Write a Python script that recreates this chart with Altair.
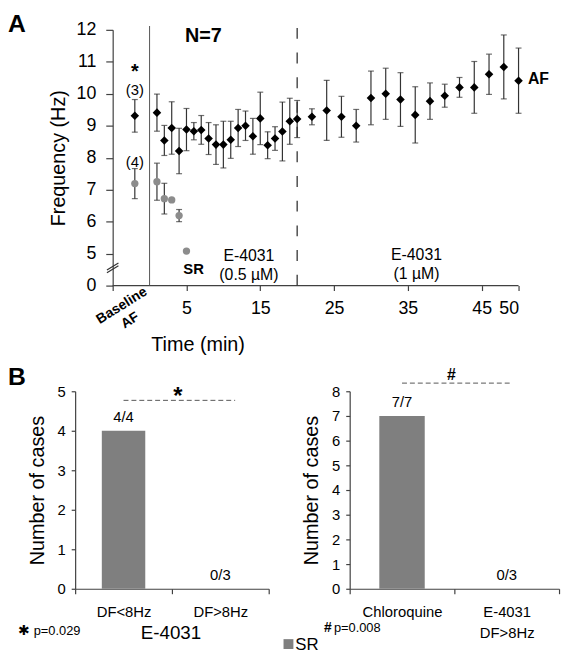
import altair as alt
import pandas as pd

FONT = "Liberation Sans"
AXIS_COLOR = "#404040"
BAR_GRAY = "#7f7f7f"
SR_GRAY = "#8c8c8c"
ERR_COLOR = "#333333"

# ---------------- Panel A data ----------------
af_time = [-2, 1, 2, 3, 4, 5, 6, 7, 8, 9, 10, 11, 12, 13, 14, 15, 16, 17, 18, 19, 20,
           22, 24, 26, 28, 30, 32, 34, 36, 38, 40, 42, 44, 46, 48, 50]
af_mean = [9.31, 9.41, 8.54, 8.93, 8.21, 8.88, 8.83, 8.87, 8.60, 8.41, 8.41, 8.56, 8.93, 9.00,
           8.67, 9.23, 8.39, 8.60, 8.82, 9.14, 9.21,
           9.28, 9.48, 9.28, 9.00, 9.87, 10.00, 9.82, 9.34, 9.77, 9.94, 10.20, 10.20, 10.61,
           10.84, 10.41]
af_err = [0.51, 0.58, 0.47, 0.82, 0.71, 0.66, 0.27, 0.45, 0.50, 0.62, 0.73, 0.58, 0.58, 0.46,
          0.56, 0.82, 0.42, 0.37, 0.92, 0.72, 0.58,
          0.25, 0.94, 0.64, 0.51, 0.84, 0.80, 0.84, 0.88, 0.57, 0.36, 0.31, 0.81, 0.63,
          1.00, 1.02]

sr_time = [-2, 1, 2, 3, 4, 5]
sr_mean = [7.19, 7.25, 6.72, 6.68, 6.19, 5.08]
sr_err = [0.47, 0.58, 0.48, 0.0, 0.19, 0.0]

x_tick_values = [-5, 5, 15, 25, 35, 45, 50]
y_tick_values = [4, 5, 6, 7, 8, 9, 10, 11, 12]

# annotation texts of panel A (time, frequency, text, font size)
a_bold_t = [7.3, 52.7, 5.97]
a_bold_v = [11.79, 10.46, 4.53]
a_bold_txt = ["N=7", "AF", "SR"]
a_bold_size = [20, 16, 15]

a_norm_t = [13.46, 13.46, 36.17, 36.17, -2, -2]
a_norm_v = [4.93, 4.34, 4.95, 4.37, 10.12, 7.86]
a_norm_txt = ["E-4031", "(0.5 µM)", "E-4031", "(1 µM)", "(3)", "(4)"]
a_norm_size = [16, 16, 16, 16, 15, 15]

# ---------------- Panel B data ----------------
b1_cats = ["DF<8Hz", "DF>8Hz"]
b1_vals = [4, 0]
b1_labels = ["4/4", "0/3"]

b2_cats = ["Chloroquine", "E-4031|DF>8Hz"]
b2_vals = [7, 0]
b2_labels = ["7/7", "0/3"]

# ---------------- layout constants ----------------
A_W, A_H = 449, 259
A_GAP = 38  # px between plot-area left edge and the drawn y axis
PX_PER_MIN = (A_W - A_GAP) / 55.0
X_MIN = -5 - A_GAP / PX_PER_MIN

xscale = alt.Scale(domain=[X_MIN, 50], nice=False, zero=False)
yscale = alt.Scale(domain=[4, 12], nice=False, zero=False)

af_df = pd.DataFrame({"t": af_time, "m": af_mean,
                      "lo": [m - e for m, e in zip(af_mean, af_err)],
                      "hi": [m + e for m, e in zip(af_mean, af_err)]})
sr_df = pd.DataFrame({"t": sr_time, "m": sr_mean,
                      "lo": [m - e for m, e in zip(sr_mean, sr_err)],
                      "hi": [m + e for m, e in zip(sr_mean, sr_err)]})

x_axis_a = alt.Axis(values=x_tick_values, labelExpr="datum.value == -5 ? '' : datum.label",
                    domain=False, grid=False, tickSize=5, labelFontSize=18, labelPadding=9,
                    labelOverlap=False, tickCount=len(x_tick_values),
                    title="Time (min)", titleFontSize=20, titleFontWeight="normal",
                    titleX=124, titleY=66, titleBaseline="alphabetic", titleAlign="center")
y_axis_a = alt.Axis(values=y_tick_values, labelExpr="datum.value == 4 ? '0' : datum.label",
                    offset=-A_GAP, grid=False, tickSize=7, labelFontSize=18, labelPadding=10,
                    labelOverlap=False, tickCount=len(y_tick_values),
                    title="Frequency (Hz)", titleFontSize=20, titleFontWeight="normal",
                    titlePadding=8)

X = lambda f: alt.X(f, type="quantitative", scale=xscale, axis=x_axis_a)
Y = lambda f: alt.Y(f, type="quantitative", scale=yscale, axis=y_axis_a)

# x axis line (from -5 to 50 at the axis-break "0" level)
axis_line = alt.Chart(pd.DataFrame({"t": [-5], "b": [50], "v": [4]})).mark_rule(
    color=AXIS_COLOR, strokeWidth=1.2).encode(x=X("t"), x2="b:Q", y=Y("v"))

# vertical markers
vline = alt.Chart(pd.DataFrame({"t": [0], "v": [12.12], "bot": [4]})).mark_rule(
    color="#555555").encode(x=X("t"), y=Y("v"), y2="bot:Q")
dline = alt.Chart(pd.DataFrame({"t": [20], "v": [12.06], "bot": [4]})).mark_rule(
    color="#333333", strokeDash=[11, 14], strokeWidth=1.3).encode(x=X("t"), y=Y("v"), y2="bot:Q")

# axis break marks
brk = alt.Chart(pd.DataFrame({"t": [-5.78, -5.78], "b": [-4.22, -4.22],
                              "v": [4.40, 4.49], "y2": [4.62, 4.71]})).mark_rule(
    color="#333333", strokeWidth=1.2).encode(x=X("t"), x2="b:Q", y=Y("v"), y2="y2:Q")

def err_layers(df, color):
    r = alt.Chart(df).mark_rule(color=color, strokeWidth=1.2).encode(x=X("t"), y=Y("lo"), y2="hi:Q")
    c1 = alt.Chart(df).mark_tick(orient="horizontal", size=6, thickness=1.2, color=color).encode(
        x=X("t"), y=Y("lo"))
    c2 = alt.Chart(df).mark_tick(orient="horizontal", size=6, thickness=1.2, color=color).encode(
        x=X("t"), y=Y("hi"))
    return [r, c1, c2]

af_pts = alt.Chart(af_df).mark_point(shape="diamond", filled=True, size=75, color="black",
                                     opacity=1).encode(x=X("t"), y=Y("m"))
sr_pts = alt.Chart(sr_df).mark_circle(size=55, color=SR_GRAY, opacity=1).encode(x=X("t"), y=Y("m"))

bold_df = pd.DataFrame({"t": a_bold_t, "v": a_bold_v, "txt": a_bold_txt, "fs": a_bold_size})
norm_df = pd.DataFrame({"t": a_norm_t, "v": a_norm_v, "txt": a_norm_txt, "fs": a_norm_size})
bold_txt = alt.Chart(bold_df).mark_text(fontWeight="bold", baseline="middle", color="black").encode(
    x=X("t"), y=Y("v"), text="txt:N", size=alt.Size("fs:Q", scale=None))
norm_txt = alt.Chart(norm_df).mark_text(baseline="middle", color="black").encode(
    x=X("t"), y=Y("v"), text="txt:N", size=alt.Size("fs:Q", scale=None))
star_a = alt.Chart(pd.DataFrame({"t": [-2], "v": [10.76]})).mark_text(
    text="*", fontSize=20, fontWeight="bold", baseline="middle", dy=3, color="black").encode(
    x=X("t"), y=Y("v"))
base_lbl = alt.Chart(pd.DataFrame({"t": [-3.76, -2.64], "v": [3.37, 2.91],
                                   "txt": ["Baseline", "AF"]})).mark_text(
    fontWeight="bold", fontSize=14, angle=328, baseline="middle", color="black").encode(
    x=X("t"), y=Y("v"), text="txt:N")
letter_a = alt.Chart(pd.DataFrame({"k": [0]})).mark_text(
    text="A", fontSize=25, fontWeight="bold", align="left", baseline="middle", color="black").encode(
    x=alt.value(-68), y=alt.value(-6))

panel_a = alt.layer(axis_line, vline, dline, brk, *err_layers(af_df, ERR_COLOR),
                    *err_layers(sr_df, ERR_COLOR), af_pts, sr_pts, bold_txt, norm_txt,
                    star_a, base_lbl, letter_a).properties(width=A_W, height=A_H)

# ---------------- Panel B ----------------
def bar_encodings(cats, ymax, label_expr=None):
    xax = dict(title=None, labelAngle=0, tickBand="extent", tickSize=5, labelFontSize=15,
               labelPadding=11, grid=False, labelLineHeight=21, labelOverlap=False)
    if label_expr:
        xax["labelExpr"] = label_expr
    xenc = lambda f: alt.X(f, type="nominal", sort=cats,
                           scale=alt.Scale(paddingInner=0, paddingOuter=0),
                           axis=alt.Axis(**xax))
    yenc = lambda f: alt.Y(f, type="quantitative", scale=alt.Scale(domain=[0, ymax], nice=False),
                           axis=alt.Axis(values=list(range(ymax + 1)), tickCount=ymax + 1,
                                         tickSize=4, labelFontSize=15,
                                         labelPadding=6, grid=False, labelOverlap=False,
                                         title="Number of cases",
                                         titleFontSize=20, titleFontWeight="normal",
                                         titlePadding=10))
    return xenc, yenc

one = pd.DataFrame({"k": [0]})

# B1
b1_df = pd.DataFrame({"cat": b1_cats, "n": b1_vals, "lab": b1_labels})
bx1, by1 = bar_encodings(b1_cats, 5)
b1_bars = alt.Chart(b1_df).mark_bar(size=44, color=BAR_GRAY).encode(x=bx1("cat"), y=by1("n"))
b1_txt = alt.Chart(b1_df).mark_text(dy=-9, baseline="alphabetic", fontSize=15,
                                    color="black").encode(x=bx1("cat"), y=by1("n"), text="lab:N")
b1_sig = alt.Chart(pd.DataFrame({"cat": [b1_cats[0]], "b": [b1_cats[1]], "n": [4.77]})).mark_rule(
    strokeDash=[5, 3], color="#555555", x2Offset=15).encode(x=bx1("cat"), x2="b:N", y=by1("n"))
b1_star = alt.Chart(one).mark_text(text="*", fontSize=24, fontWeight="bold", baseline="middle",
                                   color="black").encode(x=alt.value(104), y=alt.value(6))
b1_p_star = alt.Chart(one).mark_text(text="✱", fontSize=14, baseline="middle", color="black",
                                     font="DejaVu Sans").encode(x=alt.value(-52), y=alt.value(243))
b1_p = alt.Chart(one).mark_text(text="p=0.029", fontSize=13, align="left", baseline="middle",
                                color="black").encode(x=alt.value(-42), y=alt.value(243))
b1_title = alt.Chart(one).mark_text(text="E-4031", fontSize=19, baseline="middle",
                                    color="black").encode(x=alt.value(97), y=alt.value(245))
letter_b = alt.Chart(one).mark_text(text="B", fontSize=25, fontWeight="bold", align="left",
                                    baseline="middle", color="black").encode(
    x=alt.value(-68), y=alt.value(-14))
panel_b1 = alt.layer(b1_bars, b1_txt, b1_sig, b1_star, b1_p_star, b1_p, b1_title,
                     letter_b).properties(width=196, height=200)

# B2
b2_df = pd.DataFrame({"cat": b2_cats, "n": b2_vals, "lab": b2_labels})
bx2, by2 = bar_encodings(b2_cats, 8, label_expr="split(datum.label, '|')")
b2_bars = alt.Chart(b2_df).mark_bar(size=46, color=BAR_GRAY).encode(x=bx2("cat"), y=by2("n"))
b2_txt = alt.Chart(b2_df).mark_text(dy=-9, baseline="alphabetic", fontSize=15,
                                    color="black").encode(x=bx2("cat"), y=by2("n"), text="lab:N")
b2_sig = alt.Chart(pd.DataFrame({"cat": [b2_cats[0]], "b": [b2_cats[1]], "n": [8.33]})).mark_rule(
    strokeDash=[5, 3], color="#555555", x2Offset=3).encode(x=bx2("cat"), x2="b:N", y=by2("n"))
b2_hash = alt.Chart(one).mark_text(text="#", fontSize=16, fontWeight="bold", baseline="middle",
                                   color="black").encode(x=alt.value(103), y=alt.value(-16))
b2_p_hash = alt.Chart(one).mark_text(text="#", fontSize=14, fontWeight="bold", baseline="middle",
                                     align="left", color="black").encode(x=alt.value(-26), y=alt.value(240))
b2_p = alt.Chart(one).mark_text(text="p=0.008", fontSize=13, align="left", baseline="middle",
                                color="black").encode(x=alt.value(-16), y=alt.value(240))
legend_sq = alt.Chart(one).mark_square(size=100, color=BAR_GRAY, opacity=1).encode(
    x=alt.value(-62), y=alt.value(256))
legend_txt = alt.Chart(one).mark_text(text="SR", fontSize=17, align="left", baseline="middle",
                                      color="black").encode(x=alt.value(-55), y=alt.value(257))
panel_b2 = alt.layer(b2_bars, b2_txt, b2_sig, b2_hash, b2_p_hash, b2_p, legend_sq,
                     legend_txt).properties(width=212, height=200)

chart = alt.vconcat(panel_a, alt.hconcat(panel_b1, panel_b2, spacing=14), spacing=11).properties(
    padding={"left": 0, "top": 0, "right": 2, "bottom": 2}
).configure_view(stroke=None).configure_axis(
    labelFont=FONT, titleFont=FONT, domainColor=AXIS_COLOR, tickColor=AXIS_COLOR,
    labelColor="black", titleColor="black", domainWidth=1.2, tickWidth=1.2
).configure_text(font=FONT)

chart.save("out.html", embed_options={"renderer": "svg", "actions": False})
